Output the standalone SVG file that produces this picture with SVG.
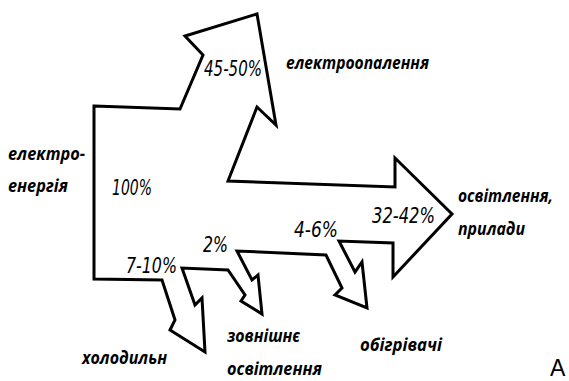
<svg xmlns="http://www.w3.org/2000/svg" width="569" height="381" viewBox="0 0 569 381">
<style>
.flow{fill:none;stroke:#000;stroke-width:3;stroke-linejoin:miter;stroke-miterlimit:10}
.lbl{font-family:"Open Sans","Noto Sans",sans-serif;font-style:italic;font-weight:700;font-size:17px;fill:#000}
.pct{font-family:"DejaVu Sans Condensed","DejaVu Sans",sans-serif;font-style:italic;font-size:22px;fill:#000}
.mark{font-family:"Liberation Sans",Arial,sans-serif;font-size:23px;fill:#000}
</style>
<rect width="569" height="381" fill="#fff"/>
<g id="connectors">
<path class="flow" d="M94,106 L180,109 L203,55 L185,36 L257,14 L276,125 L257,107 L228,181 L395,187 L395,158 L452,214 L393,277 L393,243 L339,241 L355,272 L362,262 L367,308 L335,295 L342,288 L326,255 L237,251 L252,280 L258,275 L262,314 L241,301 L245,295 L228,270 L182,268 L195,305 L202,298 L205,352 L170,330 L175,320 L162,280 L94,279 Z"/>
</g>
<g id="source">
<text class="lbl" x="8" y="160" textLength="77" lengthAdjust="spacingAndGlyphs">електро-</text>
<text class="lbl" x="8" y="192" textLength="60" lengthAdjust="spacingAndGlyphs">енергія</text>
<text class="pct" x="112" y="195" textLength="40" lengthAdjust="spacingAndGlyphs">100%</text>
</g>
<g id="heating">
<text class="pct" x="204" y="76" textLength="58" lengthAdjust="spacingAndGlyphs">45-50%</text>
<text class="lbl" x="286" y="69" textLength="143" lengthAdjust="spacingAndGlyphs">електроопалення</text>
</g>
<g id="lighting">
<text class="pct" x="372" y="223" textLength="63" lengthAdjust="spacingAndGlyphs">32-42%</text>
<text class="lbl" x="458" y="202" font-size="16" textLength="95" lengthAdjust="spacingAndGlyphs">освітлення,</text>
<text class="lbl" x="458" y="235" textLength="67" lengthAdjust="spacingAndGlyphs">прилади</text>
</g>
<g id="heaters">
<text class="pct" x="294" y="237" textLength="44" lengthAdjust="spacingAndGlyphs">4-6%</text>
<text class="lbl" x="360" y="351" textLength="82" lengthAdjust="spacingAndGlyphs">обігрівачі</text>
</g>
<g id="outdoor">
<text class="pct" x="203" y="252" textLength="25" lengthAdjust="spacingAndGlyphs">2%</text>
<text class="lbl" x="227" y="342" textLength="73" lengthAdjust="spacingAndGlyphs">зовнішнє</text>
<text class="lbl" x="227" y="375" textLength="95" lengthAdjust="spacingAndGlyphs">освітлення</text>
</g>
<g id="fridge">
<text class="pct" x="126" y="273" textLength="51" lengthAdjust="spacingAndGlyphs">7-10%</text>
<text class="lbl" x="82" y="364" textLength="85" lengthAdjust="spacingAndGlyphs">холодильн</text>
</g>
<g id="mark">
<text class="mark" x="550" y="376">A</text>
</g>
</svg>
